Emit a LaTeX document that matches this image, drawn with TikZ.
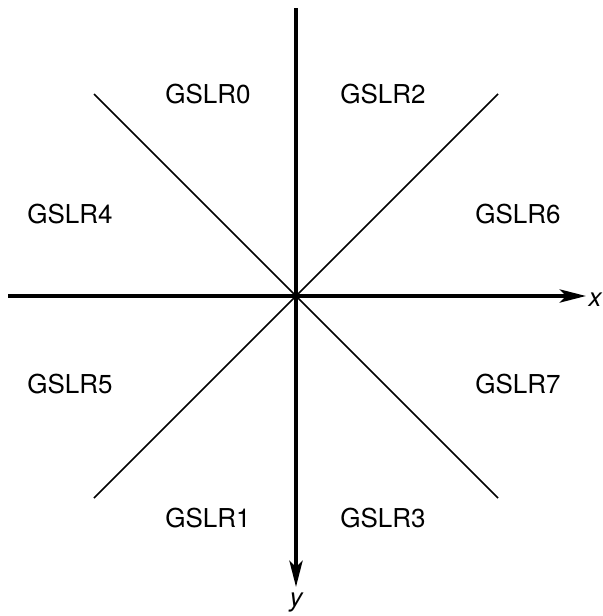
\documentclass[tikz,border=0pt]{standalone}
\usepackage{fontspec}
\setmainfont{TeX Gyre Heros}
\usetikzlibrary{arrows.meta}
\begin{document}
\begin{tikzpicture}[x=0.5pt,y=-0.5pt,
  axis/.style={line width=2pt,-{Stealth[length=13pt,width=6.5pt,inset=3pt]}},
  sector/.style={line width=0.75pt},
  lbl/.style={font=\fontsize{13}{15}\selectfont}]
  \useasboundingbox (0,0) rectangle (603,616);
  % origin and axis ends
  \coordinate (O) at (296,296);
  \coordinate (xs) at (8,296);
  \coordinate (xe) at (586,296);
  \coordinate (ys) at (296,8);
  \coordinate (ye) at (296,587);
  % diagonals
  \coordinate (nw) at (94,94);
  \coordinate (ne) at (498,94);
  \coordinate (sw) at (94,498);
  \coordinate (se) at (498,498);
  \draw[sector] (nw) -- (se);
  \draw[sector] (ne) -- (sw);
  \draw[axis] (xs) -- (xe);
  \draw[axis] (ys) -- (ye);
  \node[lbl,font=\fontsize{13}{15}\selectfont\itshape] (xl) at (595,300) {x};
  \node[lbl,font=\fontsize{13}{15}\selectfont\itshape] (yl) at (296,603) {y};
  % region names
  \node[lbl] (r0) at (208,94) {GSLR0};
  \node[lbl] (r2) at (383,94) {GSLR2};
  \node[lbl] (r4) at (70,214) {GSLR4};
  \node[lbl] (r6) at (518,214) {GSLR6};
  \node[lbl] (r5) at (70,384) {GSLR5};
  \node[lbl] (r7) at (518,384) {GSLR7};
  \node[lbl] (r1) at (208,518) {GSLR1};
  \node[lbl] (r3) at (383,518) {GSLR3};
\end{tikzpicture}
\end{document}
